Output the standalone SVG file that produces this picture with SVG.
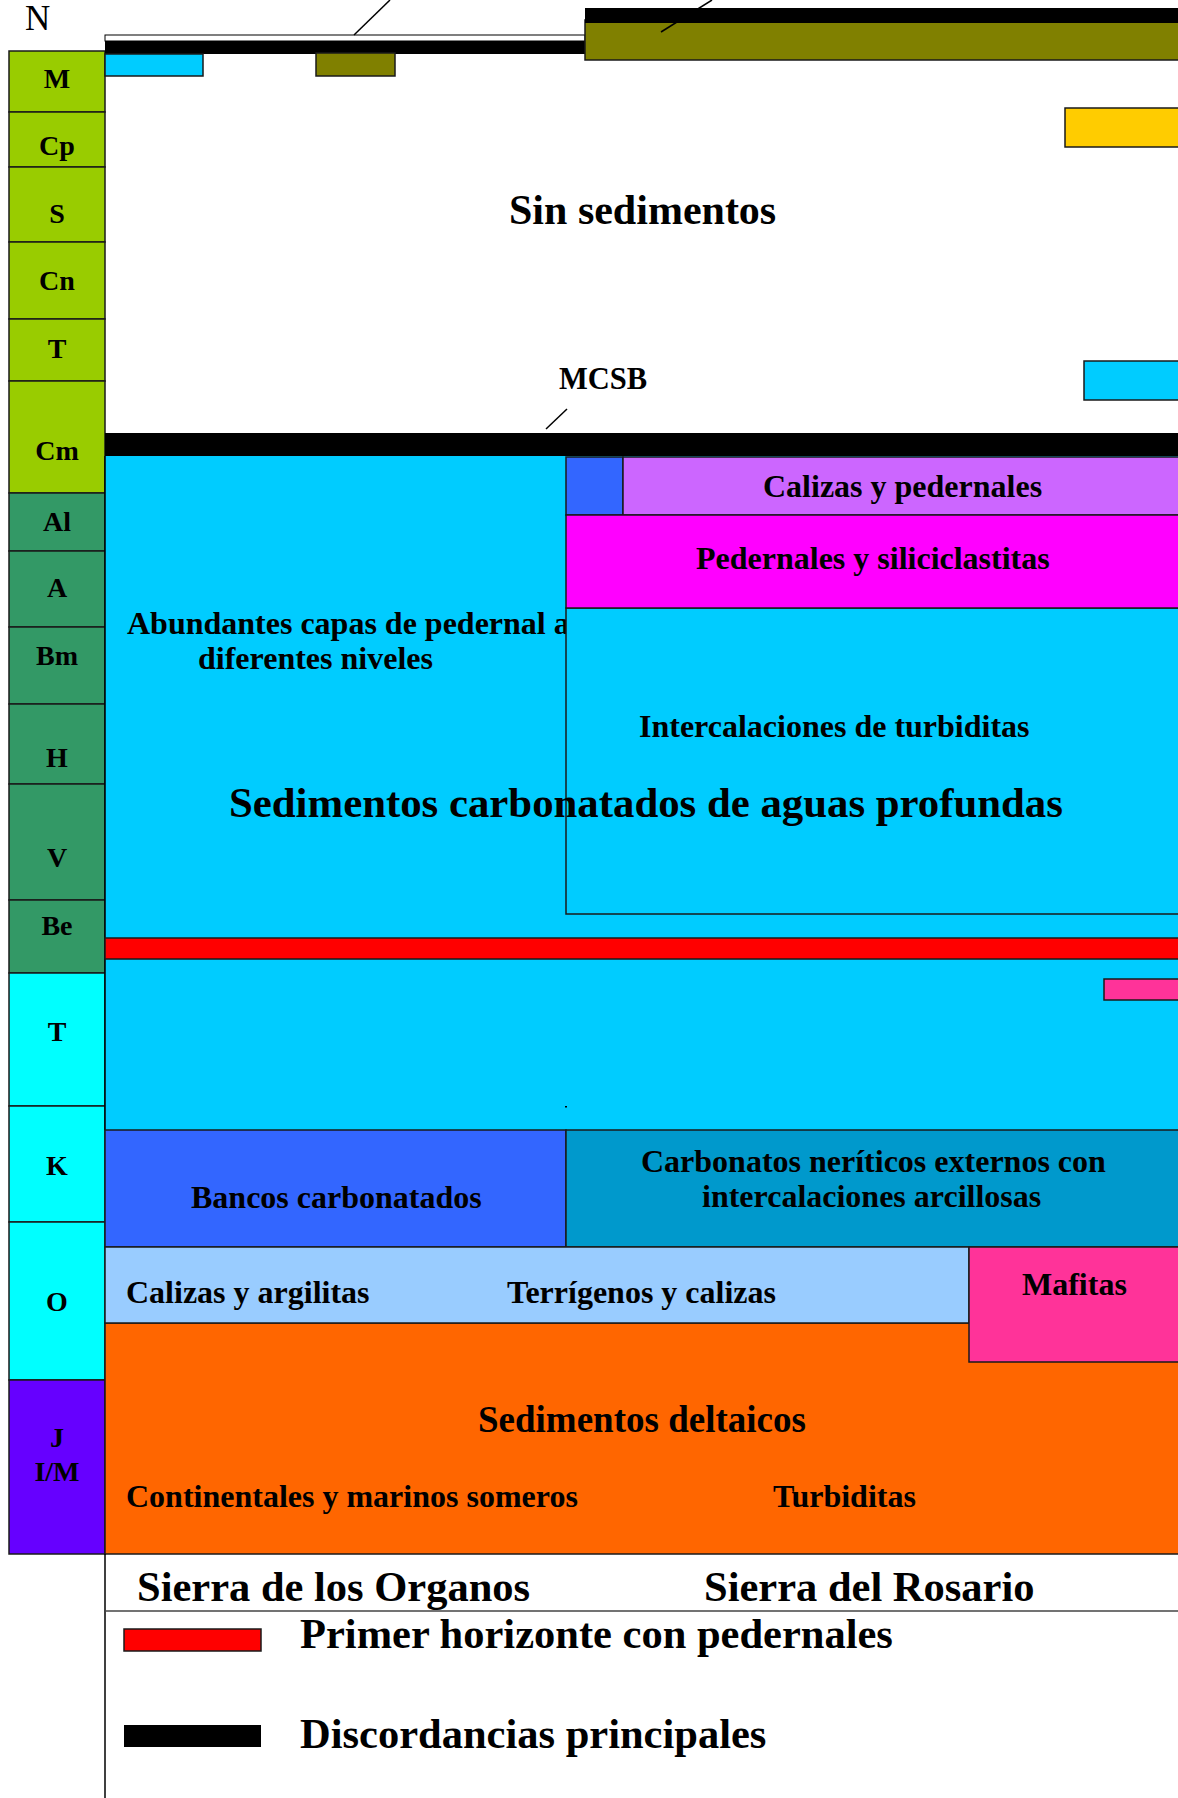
<svg xmlns="http://www.w3.org/2000/svg" width="1178" height="1798" viewBox="0 0 1178 1798">
<style>
text{font-family:"Liberation Serif","Times New Roman",serif;font-weight:bold;fill:#000}
.col{stroke:#1a1a1a;stroke-width:1.5}
.lbl{font-size:28px;text-anchor:middle}
.t32{font-size:32px}
.t42{font-size:42.5px}
.bx{stroke:#1a1a1a;stroke-width:1.5}
.ln{stroke:#000;stroke-width:1.5;fill:none}
</style>
<rect width="1178" height="1798" fill="#fff"/>
<text x="25" y="30" style="font-weight:normal;font-size:35px">N</text>

<g id="age-column">
<rect class="col" x="9" y="51" width="96" height="61" fill="#99CC00"/>
<rect class="col" x="9" y="112" width="96" height="55" fill="#99CC00"/>
<rect class="col" x="9" y="167" width="96" height="75" fill="#99CC00"/>
<rect class="col" x="9" y="242" width="96" height="77" fill="#99CC00"/>
<rect class="col" x="9" y="319" width="96" height="62" fill="#99CC00"/>
<rect class="col" x="9" y="381" width="96" height="112" fill="#99CC00"/>
<rect class="col" x="9" y="493" width="96" height="58" fill="#339966"/>
<rect class="col" x="9" y="551" width="96" height="76" fill="#339966"/>
<rect class="col" x="9" y="627" width="96" height="77" fill="#339966"/>
<rect class="col" x="9" y="704" width="96" height="80" fill="#339966"/>
<rect class="col" x="9" y="784" width="96" height="116" fill="#339966"/>
<rect class="col" x="9" y="900" width="96" height="73" fill="#339966"/>
<rect class="col" x="9" y="973" width="96" height="133" fill="#00FFFF"/>
<rect class="col" x="9" y="1106" width="96" height="116" fill="#00FFFF"/>
<rect class="col" x="9" y="1222" width="96" height="158" fill="#00FFFF"/>
<rect class="col" x="9" y="1380" width="96" height="174" fill="#6600FF"/>
<text class="lbl" x="57" y="88">M</text>
<text class="lbl" x="57" y="155">Cp</text>
<text class="lbl" x="57" y="223">S</text>
<text class="lbl" x="57" y="290">Cn</text>
<text class="lbl" x="57" y="358">T</text>
<text class="lbl" x="57" y="460">Cm</text>
<text class="lbl" x="57" y="531">Al</text>
<text class="lbl" x="57" y="597">A</text>
<text class="lbl" x="57" y="665">Bm</text>
<text class="lbl" x="57" y="767">H</text>
<text class="lbl" x="57" y="867">V</text>
<text class="lbl" x="57" y="935">Be</text>
<text class="lbl" x="57" y="1041">T</text>
<text class="lbl" x="57" y="1175">K</text>
<text class="lbl" x="57" y="1311">O</text>
<text class="lbl" x="57" y="1447">J</text>
<text class="lbl" x="57" y="1481">I/M</text>
</g>

<g id="top-units">
<rect x="105" y="35" width="480" height="6" fill="#fff" stroke="#000" stroke-width="1"/>
<rect x="105" y="41" width="480" height="13" fill="#000"/>
<rect class="bx" x="105" y="54" width="98" height="22" fill="#00CCFF"/>
<rect class="bx" x="316" y="53" width="79" height="23" fill="#808000"/>
<rect class="bx" x="585" y="20" width="600" height="40" fill="#808000"/>
<rect x="585" y="8" width="600" height="15" fill="#000"/>
<rect class="bx" x="1065" y="108" width="120" height="39" fill="#FFCC00"/>
<rect class="bx" x="1084" y="361" width="100" height="39" fill="#00CCFF"/>
</g>

<g id="sin-sedimentos">
<text x="509" y="224" style="font-size:42px">Sin sedimentos</text>
</g>

<g id="mcsb">
<text x="559" y="389" style="font-size:30.5px">MCSB</text>
<rect x="105" y="433" width="1080" height="23" fill="#000"/>
</g>

<g id="deep-water">
<rect x="105" y="456" width="1080" height="674" fill="#00CCFF"/>
<line class="ln" x1="105" y1="456" x2="105" y2="1130"/>
<text class="t32" x="127" y="634">Abundantes capas de pedernal a</text>
<text class="t32" x="198" y="669">diferentes niveles</text>
</g>

<g id="rosario-upper">
<rect class="bx" x="566" y="608" width="620" height="306" fill="#00CCFF"/>
<rect class="bx" x="566" y="457" width="57" height="58" fill="#3366FF"/>
<rect class="bx" x="623" y="457" width="560" height="58" fill="#CC66FF"/>
<rect class="bx" x="566" y="515" width="620" height="93" fill="#FF00FF"/>
<text class="t32" x="763" y="497">Calizas y pedernales</text>
<text class="t32" x="696" y="569">Pedernales y siliciclastitas</text>
<text class="t32" x="639" y="737">Intercalaciones de turbiditas</text>
<rect x="565" y="1106" width="2" height="1.5" fill="#000"/>
</g>

<g id="deep-water-title">
<text x="229" y="817" style="font-size:42.8px">Sedimentos carbonatados de aguas profundas</text>
</g>

<g id="chert-horizon">
<rect class="bx" x="105" y="938" width="1080" height="21" fill="#FF0000"/>
<rect class="bx" x="1104" y="979" width="80" height="21" fill="#FF3399"/>
</g>

<g id="bancos">
<rect class="bx" x="105" y="1130" width="461" height="117" fill="#3366FF"/>
<text class="t32" x="191" y="1208">Bancos carbonatados</text>
</g>

<g id="neriticos">
<rect class="bx" x="566" y="1130" width="620" height="117" fill="#0099CC"/>
<text class="t32" x="641" y="1172">Carbonatos neríticos externos con</text>
<text class="t32" x="702" y="1207">intercalaciones arcillosas</text>
</g>

<g id="deltaicos">
<rect class="bx" x="105" y="1323" width="1080" height="231" fill="#FF6600"/>
<text x="478" y="1432" style="font-size:37px">Sedimentos deltaicos</text>
<text class="t32" x="126" y="1507">Continentales y marinos someros</text>
<text class="t32" x="773" y="1507">Turbiditas</text>
</g>

<g id="calizas-argilitas">
<rect class="bx" x="105" y="1247" width="864" height="76" fill="#99CCFF"/>
<text class="t32" x="126" y="1303">Calizas y argilitas</text>
<text class="t32" x="507" y="1303">Terrígenos y calizas</text>
</g>

<g id="mafitas">
<rect class="bx" x="969" y="1247" width="215" height="115" fill="#FF3399"/>
<text class="t32" x="1022" y="1295">Mafitas</text>
</g>

<g id="sections">
<line class="ln" x1="105" y1="1554" x2="105" y2="1798"/>
<line x1="105" y1="1611" x2="1178" y2="1611" stroke="#444" stroke-width="1.5"/>
<text class="t42" x="137" y="1601">Sierra de los Organos</text>
<text class="t42" x="704" y="1601">Sierra del Rosario</text>
</g>

<g id="legend">
<rect class="bx" x="124" y="1629" width="137" height="22" fill="#FF0000"/>
<text class="t42" x="300" y="1648">Primer horizonte con pedernales</text>
<rect x="124" y="1725" width="137" height="22" fill="#000"/>
<text class="t42" x="300" y="1748">Discordancias principales</text>
</g>

<g id="connectors">
<line class="ln" x1="354" y1="35" x2="390" y2="0"/>
<line class="ln" x1="661" y1="32" x2="712" y2="0"/>
<line class="ln" x1="546" y1="429" x2="567" y2="409"/>
</g>
</svg>
